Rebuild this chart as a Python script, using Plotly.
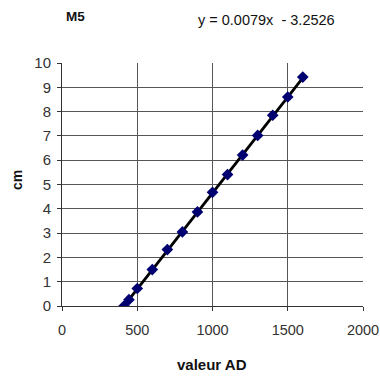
import plotly.graph_objects as go

# Data
valeur_ad = [412, 445, 500, 600, 700, 800, 900, 1000, 1100, 1200, 1300, 1400, 1500, 1600]
cm = [0.0, 0.26, 0.72, 1.50, 2.32, 3.05, 3.87, 4.68, 5.41, 6.21, 7.02, 7.85, 8.60, 9.42]
slope = 0.0079
intercept = -3.2526
x_ticks = [0, 500, 1000, 1500, 2000]
y_ticks = list(range(0, 11))

trend_x = [valeur_ad[0], valeur_ad[-1]]
trend_y = [slope * v + intercept for v in trend_x]

fig = go.Figure()
fig.add_trace(go.Scatter(x=trend_x, y=trend_y, mode="lines",
                         line=dict(color="black", width=2.8), showlegend=False))
fig.add_trace(go.Scatter(x=valeur_ad, y=cm, mode="markers",
                         marker=dict(symbol="diamond", size=9, color="#000070"),
                         showlegend=False))

font = "Liberation Sans, Arial, sans-serif"
W, H = 380, 376
l, r, t, b = 62, 17, 63, 70
pw, ph = W - l - r, H - t - b


def ann(text, px, py, size, angle=0):
    return dict(text=text, x=(px - l) / pw, y=(H - b - py) / ph, xref="paper", yref="paper",
                xanchor="center", yanchor="middle", showarrow=False, textangle=angle,
                font=dict(size=size, color="#111", family=font))


fig.update_layout(
    width=W, height=H,
    margin=dict(l=l, r=r, t=t, b=b, autoexpand=False),
    paper_bgcolor="white", plot_bgcolor="white",
    font=dict(family=font, size=14, color="#333"),
    annotations=[
        ann("<b>M5</b>", 75, 17, 13.5),
        ann("y = 0.0079x  - 3.2526", 266, 20, 14.5),
        ann("<b>cm</b>", 17, 180, 14, -90),
        ann("<b>valeur AD</b>", 212, 364, 15),
    ],
)

fig.update_xaxes(range=[0, 2000], tickvals=x_ticks, showgrid=True, gridcolor="#555",
                 gridwidth=1, showline=True, linecolor="#333", linewidth=1,
                 ticks="outside", ticklen=4, tickcolor="#333", zeroline=False,
                 automargin=False, tickfont=dict(size=14.5), ticklabelstandoff=7)
fig.update_yaxes(range=[0, 10], tickvals=y_ticks, showgrid=True, gridcolor="#555",
                 gridwidth=1, showline=True, linecolor="#333", linewidth=1,
                 ticks="outside", ticklen=4, tickcolor="#333", zeroline=False,
                 automargin=False, tickfont=dict(size=15), ticklabelstandoff=3)

fig.write_html("out.html", config={"displayModeBar": False},
               post_script="document.body.style.margin='0';document.body.style.padding='0';")
